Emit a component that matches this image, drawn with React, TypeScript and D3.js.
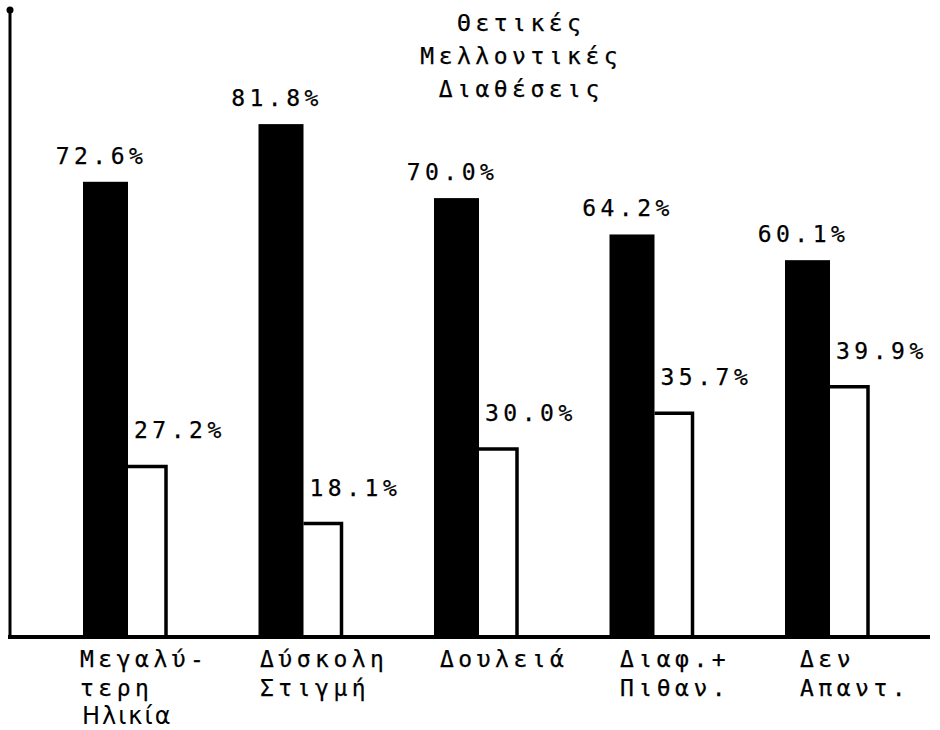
import React from "react";
import * as d3 from "d3";

const categories = ["Μεγαλύτερη Ηλικία", "Δύσκολη Στιγμή", "Δουλειά", "Διαφ.+ Πιθαν.", "Δεν Απαντ."];
const labelLines = [["Μεγαλύ-", "τερη"], ["Δύσκολη", "Στιγμή"], ["Δουλειά"], ["Διαφ.+", "Πιθαν."], ["Δεν", "Απαντ."]];
const handLine = ["Ηλικία", "", "", "", ""];
const positive = [72.6, 81.8, 70.0, 64.2, 60.1];
const other = [27.2, 18.1, 30.0, 35.7, 39.9];
const titleLines = ["Θετικές", "Μελλοντικές", "Διαθέσεις"];

const W = 940;
const H = 730;
const FONT = "'DejaVu Sans Mono', monospace";
const LS = 4.5;

export default function App() {
  const baseY = 637;
  const y = d3.scaleLinear().domain([0, 100]).range([baseY, 10]);
  const x = d3.scaleBand().domain(categories).range([83, 83 + 175.5 * 5]).paddingInner(0).paddingOuter(0).align(0);
  const lx = d3.scalePoint().domain(categories).range([80, 800]);
  const blackW = 45;
  const whiteW = 38;
  const fmt = (v: number) => v.toFixed(1) + "%";
  const textStyle: React.CSSProperties = {
    fontFamily: FONT,
    fontSize: 23,
    letterSpacing: LS,
    stroke: "#000",
    strokeWidth: 0.25,
  };

  return (
    <svg width={W} height={H} style={{ position: "absolute", left: 0, top: 0, background: "#fff" }}>
      <rect x={0} y={0} width={W} height={H} fill="#fff" />
      {titleLines.map((t, i) => (
        <text key={t} x={519 + LS / 2} y={31 + i * 33} textAnchor="middle" style={textStyle} fill="#000">
          {t}
        </text>
      ))}
      {categories.map((c, i) => {
        const x0 = x(c) as number;
        const yb = y(positive[i]);
        const yw = y(other[i]);
        return (
          <g key={c}>
            <rect x={x0} y={yb} width={blackW} height={baseY - yb} fill="#000" />
            <path
              d={`M${x0 + blackW},${yw} H${x0 + blackW + whiteW} V${baseY}`}
              fill="none"
              stroke="#000"
              strokeWidth={3.5}
            />
            <text x={x0 + blackW / 2 - 4} y={yb - 18} textAnchor="middle" style={textStyle} fill="#000">
              {fmt(positive[i])}
            </text>
            <text x={x0 + blackW + 6} y={yw - 28} textAnchor="start" style={textStyle} fill="#000">
              {fmt(other[i])}
            </text>
          </g>
        );
      })}
      <line x1={10} y1={8} x2={10} y2={baseY + 1} stroke="#000" strokeWidth={3} />
      <circle cx={10} cy={10} r={3.5} fill="#000" />
      <line x1={8} y1={baseY} x2={930} y2={baseY} stroke="#000" strokeWidth={4} />
      {categories.map((c, i) => (
        <g key={"l" + c}>
          {labelLines[i].map((l, j) => (
            <text key={l} x={lx(c) as number} y={667 + j * 29} style={textStyle} fill="#000">
              {l}
            </text>
          ))}
          {handLine[i] && (
            <text
              x={(lx(c) as number) + 2}
              y={724}
              style={{ fontFamily: "'DejaVu Sans', sans-serif", fontSize: 24, letterSpacing: 2 }}
              fill="#000"
            >
              {handLine[i]}
            </text>
          )}
        </g>
      ))}
    </svg>
  );
}
